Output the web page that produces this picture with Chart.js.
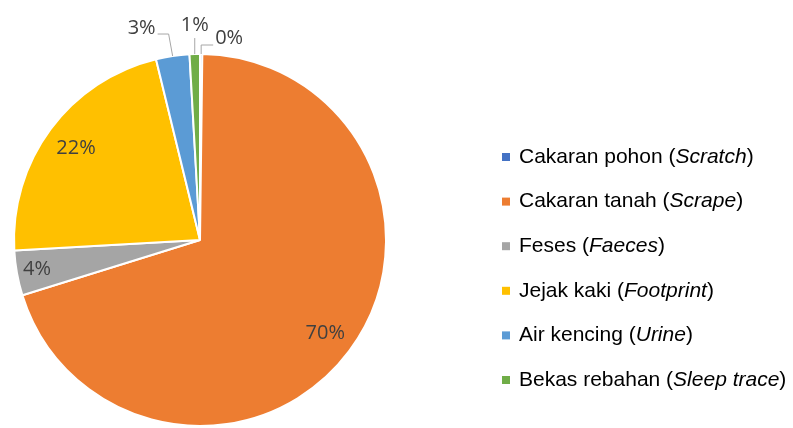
<!DOCTYPE html>
<html>
<head>
<meta charset="utf-8">
<script src="https://cdn.jsdelivr.net/npm/chart.js@4.4.1/dist/chart.umd.min.js"></script>
<style>
  html, body { margin: 0; padding: 0; background: #fff; }
  #wrap { position: relative; width: 793px; height: 428px; }
</style>
</head>
<body>
<div id="wrap"><canvas id="canvasA"></canvas></div>
<script>
// categories (plain part + italic latin part) and values
var labelMain = ['Cakaran pohon', 'Cakaran tanah', 'Feses', 'Jejak kaki', 'Air kencing', 'Bekas rebahan'];
var labelLatin = ['Scratch', 'Scrape', 'Faeces', 'Footprint', 'Urine', 'Sleep trace'];
var values = [0.2, 70.0, 3.9, 22.1, 2.9, 0.9];
var colors = ['#4472C4', '#ED7D31', '#A5A5A5', '#FFC000', '#5B9BD5', '#70AD47'];

// label placement per slice: inside (radius factor) or outside with leader
var labelStyle = [
  { out: true, path: [[0, -9], [12, -9]], text: [14, -16], align: 'left' },
  { inside: 0.84 },
  { inside: 0.89 },
  { inside: 0.83 },
  { out: true, path: [[-4, -22], [-15, -22]], text: [-17, -28], align: 'right' },
  { out: true, path: [[0, -16]], text: [0, -29], align: 'center' }
];

var pctLabels = {
  id: 'pctLabels',
  afterDatasetsDraw: function(chart) {
    var ctx = chart.ctx;
    var meta = chart.getDatasetMeta(0);
    var total = values.reduce(function(a, b) { return a + b; }, 0);
    ctx.save();
    ctx.font = '20px "Open Sans"';
    ctx.fillStyle = '#404040';
    ctx.textBaseline = 'middle';
    meta.data.forEach(function(arc, i) {
      var s = labelStyle[i];
      var txt = Math.round(values[i] / total * 100) + '%';
      var mid = (arc.startAngle + arc.endAngle) / 2;
      if (s.inside) {
        var r = arc.outerRadius * s.inside;
        ctx.textAlign = 'center';
        ctx.fillText(txt, arc.x + Math.cos(mid) * r, arc.y + Math.sin(mid) * r);
      } else {
        var ex = arc.x + Math.cos(mid) * arc.outerRadius;
        var ey = arc.y + Math.sin(mid) * arc.outerRadius;
        ctx.strokeStyle = '#A6A6A6';
        ctx.lineWidth = 1;
        ctx.beginPath();
        ctx.moveTo(ex, ey);
        s.path.forEach(function(p) { ctx.lineTo(ex + p[0], ey + p[1]); });
        ctx.stroke();
        ctx.textAlign = s.align;
        ctx.fillText(txt, ex + s.text[0], ey + s.text[1]);
      }
    });
    ctx.restore();
  }
};

var sideLegend = {
  id: 'sideLegend',
  afterDraw: function(chart) {
    var ctx = chart.ctx;
    var x0 = 502, y0 = 157, step = 44.6;
    ctx.save();
    ctx.textBaseline = 'middle';
    ctx.textAlign = 'left';
    labelMain.forEach(function(name, i) {
      var y = y0 + i * step;
      ctx.fillStyle = colors[i];
      ctx.fillRect(x0, y - 4, 8, 8);
      ctx.fillStyle = '#000';
      var x = x0 + 17;
      var parts = [[name + ' (', false], [labelLatin[i], true], [')', false]];
      parts.forEach(function(p) {
        ctx.font = (p[1] ? 'italic ' : '') + '21px "Liberation Sans", Arial';
        ctx.fillText(p[0], x, y);
        x += ctx.measureText(p[0]).width;
      });
    });
    ctx.restore();
  }
};

var ctx = document.getElementById('canvasA').getContext('2d');
var pie = new Chart(ctx, {
  type: 'pie',
  data: {
    labels: labelMain,
    datasets: [{
      data: values,
      backgroundColor: colors,
      borderColor: '#fff',
      borderWidth: 2,
      clip: false
    }]
  },
  options: {
    responsive: true,
    maintainAspectRatio: false,
    animation: false,
    layout: { padding: { left: 13, right: 406, top: 53, bottom: 1 } },
    plugins: {
      legend: { display: false },
      tooltip: { enabled: false }
    }
  },
  plugins: [pctLabels, sideLegend]
});
</script>
</body>
</html>
